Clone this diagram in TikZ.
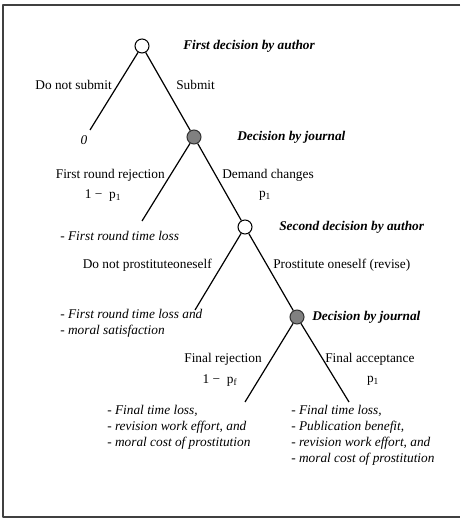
\documentclass[tikz,border=0pt]{standalone}
\usepackage{fontspec}
\setmainfont{Liberation Serif}
\begin{document}
\begin{tikzpicture}[x=0.75pt,y=-0.75pt,line join=round,
    author/.style={circle,draw=black,fill=white,inner sep=0pt,minimum size=10.5pt,line width=0.8pt},
    journal/.style={circle,draw=black!80,fill=black!50,inner sep=0pt,minimum size=10.5pt,line width=0.8pt},
    branch/.style={line width=0.9pt},
    who/.style={anchor=west,inner sep=0pt,font=\bfseries\itshape},
    lbl/.style={inner sep=0pt},
    payoff/.style={anchor=north west,inner sep=0pt,align=left,font=\itshape}]
  \useasboundingbox (0,0) rectangle (460,523);
  \draw [color=black!75, line width=1.5pt] (460,5) -- (3,5) -- (3,517) -- (460,517);

  % decision nodes
  \node[author] (n1) at (142,46) {};
  \node[journal] (n2) at (194,137) {};
  \node[author] (n3) at (245,227) {};
  \node[journal] (n4) at (297,317) {};
  \coordinate (e1) at (90,130);
  \coordinate (e2) at (142,221);
  \coordinate (e3) at (195,310);
  \coordinate (e4) at (245,402);
  \coordinate (e5) at (349,402);

  \draw[branch] (n1) -- (e1);
  \draw[branch] (n1) -- (n2);
  \draw[branch] (n2) -- (e2);
  \draw[branch] (n2) -- (n3);
  \draw[branch] (n3) -- (e3);
  \draw[branch] (n3) -- (n4);
  \draw[branch] (n4) -- (e4);
  \draw[branch] (n4) -- (e5);

  \node[who] (w1) at (183,46) {First decision by author};
  \node[who] (w2) at (237,137) {Decision by journal};
  \node[who] (w3) at (279,227) {Second decision by author};
  \node[who] (w4) at (312,317) {Decision by journal};

  % branch labels
  \node[lbl,anchor=east] (b1) at (112,85) {Do not submit};
  \node[lbl,anchor=west] (b2) at (176,85) {Submit};
  \node[lbl,anchor=east] (b3) at (165,175) {First round rejection};
  \node[lbl] (q3) at (103,196) {1 −\ \ p\textsubscript{1}};
  \node[lbl,anchor=west] (b4) at (222,175) {Demand changes};
  \node[lbl] (q4) at (265,196) {p\textsubscript{1}};
  \node[lbl,anchor=east] (b5) at (212,265) {Do not prostituteoneself};
  \node[lbl,anchor=west] (b6) at (273,265) {Prostitute oneself (revise)};
  \node[lbl,anchor=east] (b7) at (262,359) {Final rejection};
  \node[lbl] (q7) at (220,381) {1 −\ \ p\textsubscript{f}};
  \node[lbl,anchor=west] (b8) at (325,359) {Final acceptance};
  \node[lbl] (q8) at (373,381) {p\textsubscript{1}};

  % outcomes
  \node[lbl,font=\itshape] (o1) at (84,140) {0};
  \node[lbl,anchor=west,font=\itshape] (o2) at (60,236) {- First round time loss};
  \node[payoff] (o3) at (60,309) {- First round time loss and\\- moral satisfaction};
  \node[payoff] (o4) at (107,405) {- Final time loss,\\- revision work effort, and\\- moral cost of prostitution};
  \node[payoff] (o5) at (291,405) {- Final time loss,\\- Publication benefit,\\- revision work effort, and\\- moral cost of prostitution};
\end{tikzpicture}
\end{document}
